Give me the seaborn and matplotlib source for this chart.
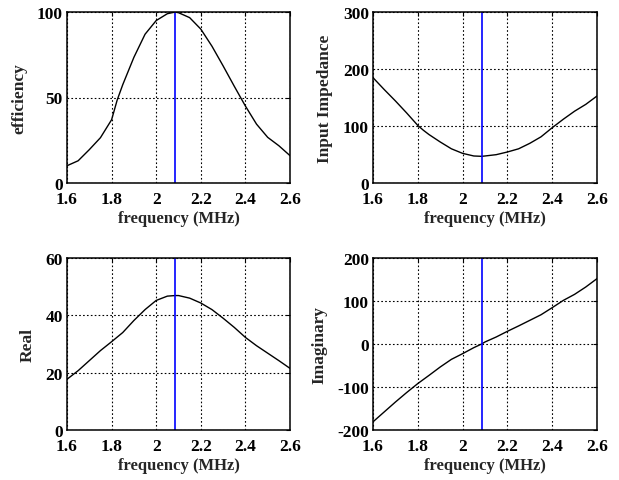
import numpy as np
import pandas as pd
import matplotlib
matplotlib.use("Agg")
import matplotlib.pyplot as plt
import seaborn as sns

freq = [1.6, 1.65, 1.7, 1.75, 1.8, 1.825, 1.85, 1.9, 1.95, 2.0, 2.05, 2.085, 2.1, 2.15, 2.2, 2.25, 2.3, 2.35, 2.4, 2.45, 2.5, 2.55, 2.6]
efficiency = [10.1, 13, 19.5, 26.5, 37, 48.5, 57.5, 73.5, 87, 95, 99, 100, 99.6, 96.7, 90, 80, 68.5, 56.6, 45, 34.4, 26.7, 21.8, 16]
impedance = [184.8, 164, 144, 123, 101, 92.5, 85, 72, 60, 52, 47.4, 46.8, 47.4, 49.7, 54.4, 60, 69.6, 81, 97, 112, 126, 138, 152.6]
real_part = [17.7, 20.7, 24.2, 27.7, 30.8, 32.4, 34, 38.2, 42, 45.2, 46.7, 46.9, 46.9, 46, 44.3, 42, 39, 35.8, 32.3, 29.4, 26.8, 24.2, 21.5]
imag_part = [-181, -158, -135, -113, -92, -82.5, -73, -53.5, -35.7, -22.5, -8.5, 0, 4.7, 16.3, 29.5, 42, 55, 68, 84.5, 101.5, 115.5, 132.6, 152]
marker_freq = 2.085

xticks = [1.6, 1.8, 2.0, 2.2, 2.4, 2.6]
xtick_labels = ["1.6", "1.8", "2", "2.2", "2.4", "2.6"]

df = pd.DataFrame({"freq": freq, "efficiency": efficiency, "impedance": impedance,
                   "real": real_part, "imag": imag_part})

sns.set_style("white")
plt.rcParams["font.family"] = ["Liberation Serif", "DejaVu Serif"]
plt.rcParams["font.weight"] = "bold"
plt.rcParams["axes.unicode_minus"] = False

fig = plt.figure(figsize=(6.19, 4.81), dpi=100)
W, H = 619, 481

def ax_at(l, t, r, b):
    return fig.add_axes([l / W, 1 - b / H, (r - l) / W, (b - t) / H])

panels = [
    (ax_at(67, 13, 290, 184), "efficiency", "efficiency", (0, 100), [0, 50, 100]),
    (ax_at(373, 13, 597, 184), "impedance", "Input Impedance", (0, 300), [0, 100, 200, 300]),
    (ax_at(67, 259, 290, 431), "real", "Real", (0, 60), [0, 20, 40, 60]),
    (ax_at(373, 259, 597, 431), "imag", "Imaginary", (-200, 200), [-200, -100, 0, 100, 200]),
]

for ax, col, label, ylim, yticks in panels:
    sns.lineplot(data=df, x="freq", y=col, ax=ax, color="black", linewidth=1.0)
    ax.axvline(marker_freq, color="#0000ff", linewidth=1.2)
    ax.set_xlim(1.6, 2.6)
    ax.set_ylim(*ylim)
    ax.set_xticks(xticks)
    ax.set_xticklabels(xtick_labels)
    ax.set_yticks(yticks)
    ax.set_yticklabels([str(v) for v in yticks])
    ax.grid(True, color="black", linestyle=(0, (1.5, 2)), linewidth=0.8)
    ax.set_axisbelow(True)
    for s in ax.spines.values():
        s.set_color("black")
        s.set_linewidth(1.1)
        s.set_visible(True)
    ax.tick_params(direction="in", length=3, width=0.8, top=True, right=True,
                   labelsize=12.5, colors="black")
    ax.tick_params(axis="x", pad=6)
    ax.tick_params(axis="y", pad=3)
    for t in ax.get_xticklabels() + ax.get_yticklabels():
        t.set_fontweight("bold")
    ax.set_xlabel("frequency (MHz)", fontsize=12, fontweight="bold", labelpad=2)
    ax.set_ylabel(label, fontsize=12.5, fontweight="bold", labelpad=7)

fig.savefig("out.png", dpi=100, facecolor="white")
